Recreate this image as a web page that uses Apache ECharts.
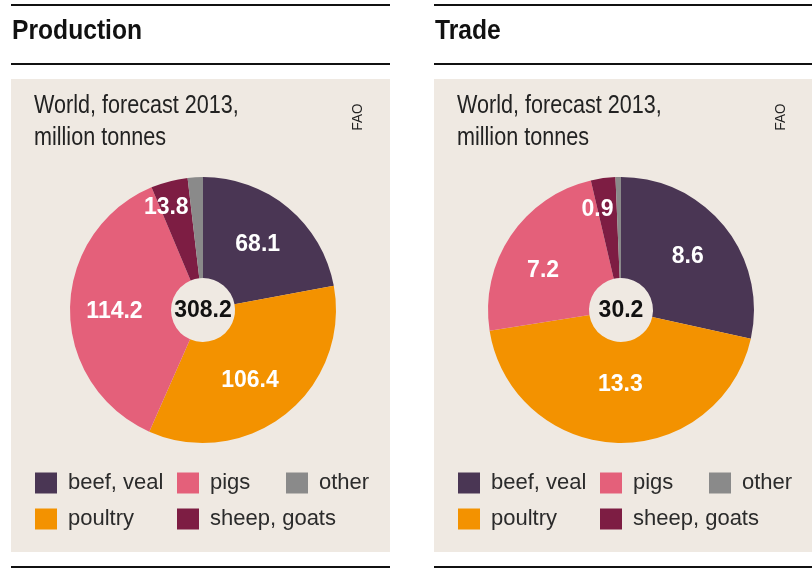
<!DOCTYPE html>
<html>
<head>
<meta charset="utf-8">
<script src="https://cdn.jsdelivr.net/npm/echarts@6/dist/echarts.min.js"></script>
<style>
html,body{margin:0;padding:0;background:#fff;}
#chart{width:812px;height:569px;}
</style>
</head>
<body>
<div id="chart"></div>
<script>
// ---- data ----
const categories = ['beef, veal', 'poultry', 'pigs', 'sheep, goats', 'other'];
const productionValues = [68.1, 106.4, 114.2, 13.8, 5.7];
const tradeValues = [8.6, 13.3, 7.2, 0.9, 0.2];
const panelTitles = ['Production', 'Trade'];
const subtitleLines = ['World, forecast 2013,', 'million tonnes'];
const sourceText = 'FAO';
const legendColumns = [['beef, veal', 'poultry'], ['pigs', 'sheep, goats'], ['other']];

// ---- styles ----
const sliceColors = ['#4a3654', '#f39200', '#e4607a', '#7d1d43', '#8a8a8a'];
const FONT = '"Liberation Sans", Arial, sans-serif';
const BG = '#efe9e2';

const chart = echarts.init(document.getElementById('chart'), null, {renderer: 'canvas'});

const panels = [
  {x0: 11, x1: 390, pieX: 203, values: productionValues, title: panelTitles[0], faoX: 358,
   nudges: {1: [-6, 4], 2: [-3, 2], 3: [-15, -20]}},
  {x0: 434, x1: 812, pieX: 621, values: tradeValues, title: panelTitles[1], faoX: 781,
   nudges: {1: [2, -11], 2: [-7, 8], 3: [-12, -16]}}
];
const legendLefts = [35, 177, 286];

const graphic = [];
const series = [];
const legend = [];

panels.forEach((p, i) => {
  const off = p.x0 - 11;
  graphic.push(
    {type: 'line', z: 1, shape: {x1: p.x0, y1: 5, x2: p.x1, y2: 5}, style: {stroke: '#111', lineWidth: 2}},
    {type: 'line', z: 1, shape: {x1: p.x0, y1: 64, x2: p.x1, y2: 64}, style: {stroke: '#111', lineWidth: 2}},
    {type: 'line', z: 1, shape: {x1: p.x0, y1: 567, x2: p.x1, y2: 567}, style: {stroke: '#111', lineWidth: 2}},
    {type: 'rect', z: 0, shape: {x: p.x0, y: 79, width: p.x1 - p.x0, height: 473}, style: {fill: BG}},
    {type: 'text', z: 1, x: p.x0 + 1, y: 31, scaleX: 0.88, style: {text: p.title, font: 'bold 28px ' + FONT, fill: '#111', verticalAlign: 'middle', align: 'left'}},
    {type: 'text', z: 1, x: p.x0 + 23, y: 106, scaleX: 0.83, style: {text: subtitleLines[0], font: '26px ' + FONT, fill: '#222', verticalAlign: 'middle', align: 'left'}},
    {type: 'text', z: 1, x: p.x0 + 23, y: 138, scaleX: 0.83, style: {text: subtitleLines[1], font: '26px ' + FONT, fill: '#222', verticalAlign: 'middle', align: 'left'}},
    {type: 'text', z: 1, x: p.faoX, y: 117, rotation: Math.PI / 2, scaleX: 0.9, style: {text: sourceText, font: '15px ' + FONT, fill: '#222', verticalAlign: 'middle', align: 'center'}},
    {type: 'text', z: 10, x: p.pieX, y: 311, style: {text: p.values.reduce((a, b) => a + b, 0).toFixed(1), font: 'bold 23px ' + FONT, fill: '#111', verticalAlign: 'middle', align: 'center'}}
  );
  series.push({
    type: 'pie',
    center: [p.pieX, 310],
    radius: [32, 133],
    startAngle: 90,
    clockwise: true,
    avoidLabelOverlap: false,
    silent: true,
    emphasis: {disabled: true, scale: false},
    itemStyle: {borderWidth: 0},
    label: {show: true, position: 'inside', color: '#fff', fontFamily: FONT, fontWeight: 'bold', fontSize: 23, formatter: '{c}'},
    labelLine: {show: false},
    labelLayout: function (params) {
      const n = p.nudges[params.dataIndex];
      return n ? {dx: n[0], dy: n[1]} : {};
    },
    data: categories.map((c, k) => ({
      name: c,
      value: p.values[k],
      itemStyle: {color: sliceColors[k]},
      label: {show: k !== 4}
    }))
  });
  legendColumns.forEach((col, j) => {
    legend.push({
      data: col,
      orient: 'vertical',
      left: legendLefts[j] + off,
      top: 472,
      padding: 0,
      icon: 'rect',
      itemWidth: 22,
      itemHeight: 21,
      itemGap: 14,
      selectedMode: false,
      textStyle: {fontFamily: FONT, fontSize: 22, color: '#2b2b2b', lineHeight: 21, padding: [0, 0, 0, 6]}
    });
  });
});

chart.setOption({
  animation: false,
  color: sliceColors,
  graphic: graphic,
  legend: legend,
  series: series
});
</script>
</body>
</html>
